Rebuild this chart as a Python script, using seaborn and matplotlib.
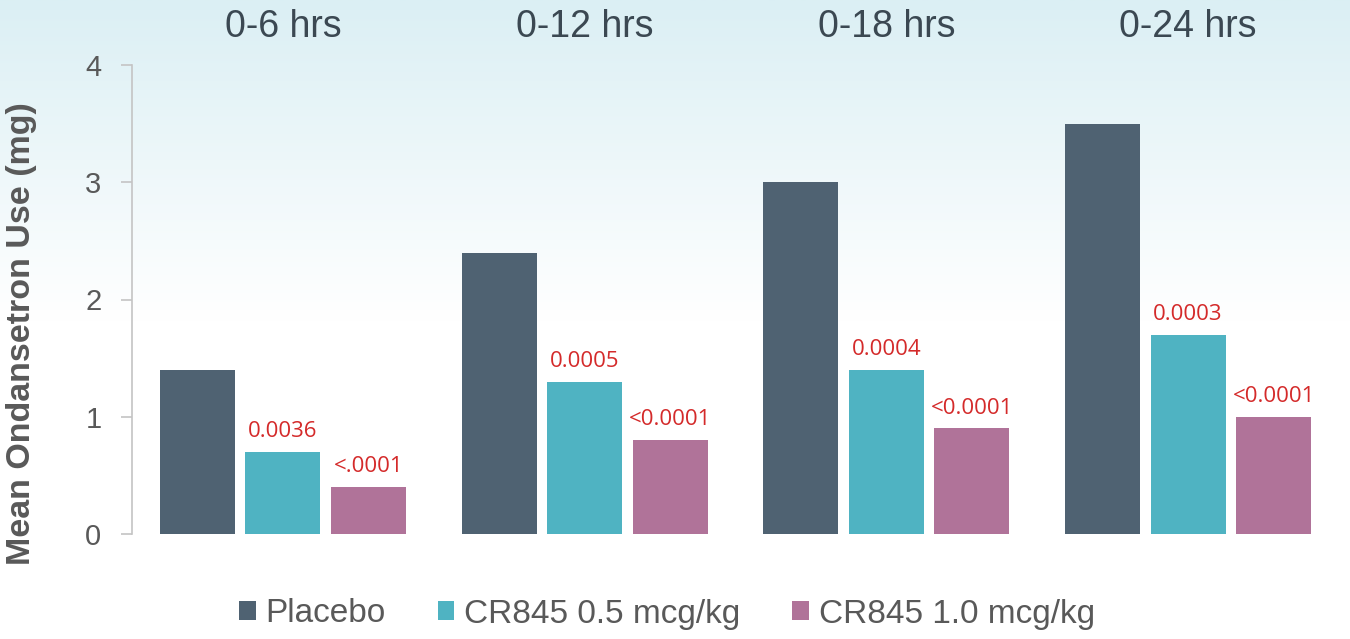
import numpy as np
import pandas as pd
import seaborn as sns
import matplotlib.pyplot as plt
from matplotlib.colors import LinearSegmentedColormap

# --- DATA ---
periods = ['0-6 hrs', '0-12 hrs', '0-18 hrs', '0-24 hrs']
groups = ['Placebo', 'CR845 0.5 mcg/kg', 'CR845 1.0 mcg/kg']
placebo = [1.4, 2.4, 3.0, 3.5]
cr845_low = [0.7, 1.3, 1.4, 1.7]
cr845_high = [0.4, 0.8, 0.9, 1.0]
p_low = ['0.0036', '0.0005', '0.0004', '0.0003']
p_high = ['<.0001', '<0.0001', '<0.0001', '<0.0001']

colors = ['#4f6272', '#4fb3c2', '#b07399']
TEXT_DARK = '#3b4852'
TEXT_GRAY = '#595959'
P_RED = '#d42a2a'

df = pd.DataFrame({
    'period': periods * 3,
    'group': [groups[0]] * 4 + [groups[1]] * 4 + [groups[2]] * 4,
    'value': placebo + cr845_low + cr845_high,
})

sns.set_theme(style='white')
plt.rcParams['font.family'] = ['Liberation Sans', 'DejaVu Sans']

fig = plt.figure(figsize=(13.5, 6.39), dpi=100)

# --- background gradient (light teal at top fading to white) ---
bg = fig.add_axes([0, 0, 1, 1], zorder=-10)
grad = np.linspace(0, 1, 256).reshape(-1, 1)
cmap = LinearSegmentedColormap.from_list('bg', ['#dbeff4', '#ffffff', '#ffffff'])
bg.imshow(grad, aspect='auto', cmap=cmap, extent=[0, 1, 0, 1], origin='upper')
bg.axis('off')

ax = fig.add_axes([132 / 1350, 1 - 534 / 639, 1207 / 1350, 469 / 639])
ax.set_facecolor('none')

sns.barplot(data=df, x='period', y='value', hue='group', palette=colors,
            width=0.85, gap=0.12, saturation=1, linewidth=0, ax=ax)

ax.set_xlim(-0.5, 3.5)
ax.set_ylim(0, 4)
ax.set_yticks([0, 1, 2, 3, 4])
ax.set_xticks([])
ax.set_xlabel('')
ax.set_ylabel('')

for s in ['top', 'right', 'bottom']:
    ax.spines[s].set_visible(False)
ax.spines['left'].set_color('#c4c4c4')
ax.spines['left'].set_linewidth(1.2)
ax.tick_params(axis='y', which='major', direction='out', length=8, width=1.2,
               color='#c4c4c4', labelsize=21, labelcolor=TEXT_GRAY, pad=14, left=True)

# group titles above the plot
for i, p in enumerate(periods):
    ax.text(i, 1.081, p, transform=ax.get_xaxis_transform(), ha='center', va='center',
            fontsize=27, color=TEXT_DARK)

# p-value labels
ax.bar_label(ax.containers[1], labels=p_low, padding=7, color=P_RED, fontsize=16,
             fontfamily='Open Sans')
ax.bar_label(ax.containers[2], labels=p_high, padding=7, color=P_RED, fontsize=16,
             fontfamily='Open Sans')

fig.text(22 / 1350, 1 - 334 / 639, 'Mean Ondansetron Use (mg)', rotation=90,
         ha='center', va='center', fontsize=24.5, fontweight='bold', color=TEXT_GRAY)

handles, labels = ax.get_legend_handles_labels()
ax.get_legend().remove()
fig.legend(handles, labels, loc='center', bbox_to_anchor=(667 / 1350, 1 - 614 / 639),
           ncol=3, frameon=False, fontsize=24, handlelength=0.5, handleheight=0.5,
           handletextpad=0.3, columnspacing=1.55, labelcolor=TEXT_GRAY)

fig.savefig('out.png', dpi=100)
